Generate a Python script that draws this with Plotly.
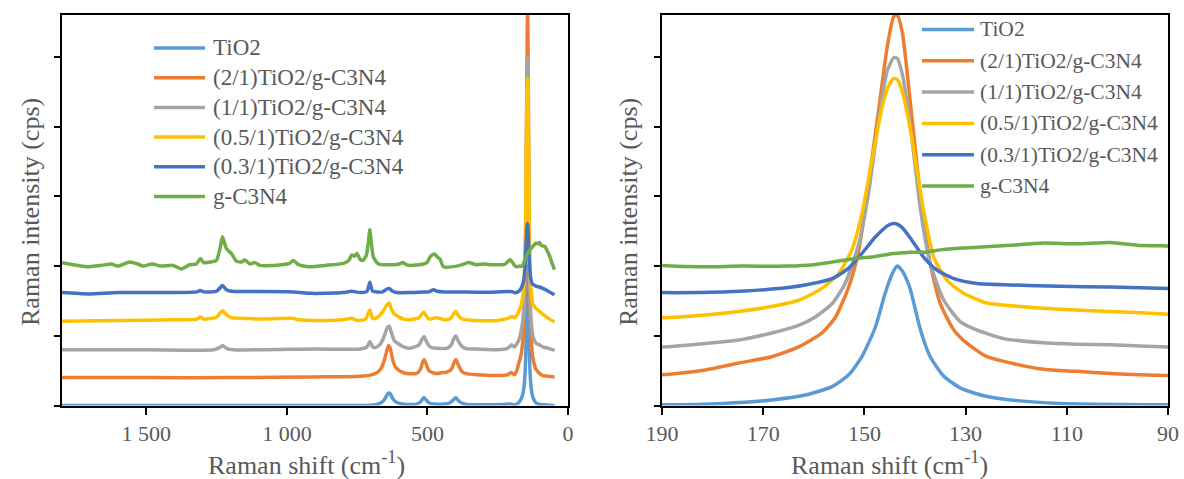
import plotly.graph_objects as go

W, H = 1184, 479

names = ["TiO2", "(2/1)TiO2/g-C3N4", "(1/1)TiO2/g-C3N4",
         "(0.5/1)TiO2/g-C3N4", "(0.3/1)TiO2/g-C3N4", "g-C3N4"]
colors = ["#5B9BD5", "#ED7D31", "#A5A5A5", "#FFC000", "#4472C4", "#70AD47"]

# Raman shift (cm-1) / intensity (arbitrary units, tick step = 1)
tio2_shift = [1800, 1500, 1200, 900, 760, 700, 680, 665, 654, 645, 638, 632, 625, 615, 600, 574,
              540, 525, 516, 512, 505, 495, 470, 440, 420, 405, 399, 392, 380, 360, 300, 230, 206,
              195, 190, 178, 168.3, 161.7, 156.4, 153.1, 150.5, 147.8, 145.9, 144.5, 143.5, 142.5,
              141.5, 140.9, 138.9, 137, 134.3, 131, 126.4, 119.8, 111.3, 90, 70, 48]
tio2_int = [0, 0, 0, 0, 0, 0.005, 0.015, 0.04, 0.08, 0.14, 0.18, 0.17, 0.11, 0.06, 0.03, 0.015,
            0.02, 0.05, 0.10, 0.11, 0.08, 0.04, 0.02, 0.02, 0.04, 0.09, 0.11, 0.08, 0.04, 0.015, 0.01,
            0.015, 0.02, 0.012, 0.01, 0.03, 0.08, 0.15, 0.27, 0.44, 0.70, 1.13, 1.61, 1.89, 2.0, 1.93,
            1.78, 1.66, 1.08, 0.70, 0.42, 0.25, 0.14, 0.07, 0.03, 0.01, 0.005, 0]

r21_shift = [1800, 1500, 1200, 900, 740, 700, 680, 665, 654, 645, 638, 632, 625, 615, 600, 585,
             560, 538, 525, 517, 512, 505, 495, 480, 467, 450, 431, 415, 405, 399, 392, 380, 372,
             350, 324, 253, 215, 205, 200, 195, 190, 181.4, 174.8, 168.3, 163, 158.4, 155.7, 153.1,
             151.1, 149.2, 147.2, 145.5, 144.2, 143.5, 142.5, 140.9, 138.9, 137, 135, 132.3, 129.7,
             125.8, 121.1, 114.6, 108, 101.4, 90, 70, 48]
r21_int = [0.40, 0.40, 0.40, 0.41, 0.42, 0.44, 0.47, 0.53, 0.64, 0.78, 0.86, 0.82, 0.68, 0.56,
           0.50, 0.47, 0.455, 0.46, 0.52, 0.62, 0.66, 0.60, 0.50, 0.47, 0.46, 0.47, 0.48, 0.52, 0.62,
           0.66, 0.60, 0.50, 0.47, 0.45, 0.44, 0.43, 0.44, 0.47, 0.47, 0.45, 0.44, 0.51, 0.61, 0.70,
           0.84, 1.04, 1.27, 1.70, 2.23, 3.18, 4.23, 5.14, 5.58, 5.60, 5.35, 4.33, 2.99, 2.04, 1.46,
           1.08, 0.89, 0.70, 0.61, 0.52, 0.49, 0.46, 0.43, 0.42, 0.41]

r11_shift = [1800, 1500, 1260, 1240, 1229, 1215, 1190, 900, 740, 715, 705, 695, 687, 670, 655,
             645, 636, 628, 618, 609, 585, 562, 530, 518, 512, 505, 495, 485, 460, 431, 415, 405,
             399, 392, 380, 366, 330, 253, 215, 200, 195, 190, 181.4, 174.8, 168.3, 163, 159.7,
             156.4, 153.8, 151.1, 149.2, 147.2, 145.5, 144.2, 143.5, 142.5, 140.9, 138.9, 137,
             134.3, 131, 127.7, 122.5, 114.6, 108, 101.4, 90, 70, 48]
r11_int = [0.80, 0.80, 0.80, 0.83, 0.86, 0.82, 0.80, 0.81, 0.81, 0.84, 0.92, 0.84, 0.83, 0.87,
           0.98, 1.10, 1.14, 1.04, 0.93, 0.90, 0.84, 0.82, 0.87, 0.96, 0.99, 0.93, 0.86, 0.83, 0.82,
           0.82, 0.87, 0.97, 1.00, 0.94, 0.86, 0.82, 0.81, 0.80, 0.82, 0.87, 0.85, 0.84, 0.89, 0.94,
           1.04, 1.15, 1.27, 1.46, 1.75, 2.32, 3.04, 4.09, 4.80, 4.99, 4.98, 4.75, 4.00, 2.80, 2.04,
           1.51, 1.20, 1.08, 0.96, 0.90, 0.88, 0.87, 0.84, 0.82, 0.79]

r051_shift = [1800, 1600, 1400, 1320, 1308, 1296, 1250, 1229, 1215, 1197, 1150, 1100, 977, 960,
              865, 800, 769, 750, 720, 705, 695, 680, 660, 645, 636, 628, 618, 609, 585, 562, 530,
              518, 512, 505, 495, 480, 467, 440, 431, 415, 405, 399, 392, 380, 372, 330, 253, 215,
              206, 195, 190, 181.4, 174.8, 168.3, 163, 158.4, 155.1, 152.5, 150.5, 148.5, 146.5,
              145.2, 144.2, 143.5, 142.5, 140.9, 138.3, 136.3, 133.7, 130.4, 125.8, 119.2, 111.3,
              101.4, 90, 70, 48]
r051_int = [1.21, 1.22, 1.23, 1.24, 1.27, 1.24, 1.27, 1.36, 1.30, 1.26, 1.25, 1.24, 1.25, 1.23,
            1.22, 1.23, 1.25, 1.22, 1.24, 1.37, 1.25, 1.26, 1.34, 1.44, 1.47, 1.38, 1.31, 1.29, 1.24,
            1.23, 1.26, 1.32, 1.34, 1.29, 1.24, 1.25, 1.26, 1.23, 1.23, 1.26, 1.33, 1.35, 1.30, 1.25,
            1.235, 1.22, 1.22, 1.25, 1.27, 1.27, 1.26, 1.30, 1.35, 1.42, 1.51, 1.68, 1.89, 2.23, 2.75,
            3.52, 4.28, 4.59, 4.69, 4.68, 4.50, 3.95, 2.80, 2.13, 1.80, 1.61, 1.47, 1.42, 1.38, 1.35,
            1.31, 1.25, 1.20]

r031_shift = [1800, 1707, 1600, 1400, 1320, 1308, 1296, 1250, 1229, 1215, 1197, 1150, 977, 917,
              865, 800, 769, 740, 715, 705, 695, 660, 645, 636, 628, 609, 560, 514, 495, 479, 465,
              440, 396, 300, 206, 195, 190, 178, 168.3, 161.7, 156.4, 153.1, 150.5, 147.8, 145.2,
              143.9, 142.5, 140.9, 138.3, 135.6, 132.3, 127.7, 121.1, 111.3, 101.4, 90, 70, 48]
r031_int = [1.62, 1.60, 1.62, 1.62, 1.63, 1.65, 1.63, 1.64, 1.72, 1.66, 1.64, 1.635, 1.63, 1.61,
            1.61, 1.62, 1.64, 1.62, 1.64, 1.77, 1.64, 1.63, 1.67, 1.68, 1.65, 1.62, 1.62, 1.63, 1.63,
            1.66, 1.64, 1.63, 1.63, 1.625, 1.635, 1.63, 1.62, 1.63, 1.67, 1.73, 1.82, 1.97, 2.18,
            2.42, 2.59, 2.61, 2.55, 2.40, 2.13, 1.94, 1.82, 1.75, 1.73, 1.71, 1.70, 1.68, 1.64, 1.59]

gcn_shift = [1800, 1760, 1713, 1660, 1624, 1601, 1560, 1530, 1512, 1480, 1446, 1405, 1375, 1346,
             1322, 1308, 1296, 1270, 1251, 1238, 1229, 1215, 1197, 1179, 1160, 1150, 1132, 1114,
             1096, 1050, 1019, 990, 977, 959, 917, 865, 798, 780, 769, 760, 751, 740, 730, 718, 710,
             705, 700, 692, 674, 621, 600, 588, 575, 562, 514, 500, 491, 480, 473, 465, 455, 443,
             396, 370, 354, 324, 300, 277, 224, 215, 206, 195, 190, 182.1, 174.2, 165, 160, 157,
             154.4, 151.8, 148.5, 145.2, 142.6, 140.9, 138, 134.3, 127.7, 121.1, 114.6, 108, 101.4,
             96.1, 90, 82, 74, 64, 55, 48]
gcn_int = [2.05, 2.02, 1.99, 2.01, 2.03, 2.00, 2.06, 2.03, 2.00, 2.03, 2.00, 2.01, 1.96, 2.02,
           2.03, 2.11, 2.05, 2.06, 2.08, 2.25, 2.42, 2.25, 2.18, 2.07, 2.06, 2.09, 2.03, 2.05, 2.01,
           2.01, 2.02, 2.04, 2.08, 2.02, 1.99, 2.01, 2.04, 2.08, 2.16, 2.14, 2.18, 2.10, 2.08, 2.15,
           2.35, 2.52, 2.35, 2.13, 2.03, 2.02, 2.03, 2.05, 2.02, 2.01, 2.03, 2.06, 2.13, 2.17, 2.17,
           2.13, 2.10, 1.99, 2.00, 2.03, 2.05, 2.02, 2.03, 2.02, 2.03, 2.06, 2.09, 2.04, 2.01, 1.99,
           2.00, 2.00, 2.02, 2.05, 2.08, 2.11, 2.13, 2.17, 2.19, 2.20, 2.20, 2.24, 2.27, 2.30, 2.33,
           2.32, 2.34, 2.30, 2.29, 2.28, 2.22, 2.13, 2.02, 1.95]

series = [(tio2_shift, tio2_int), (r21_shift, r21_int), (r11_shift, r11_int),
          (r051_shift, r051_int), (r031_shift, r031_int), (gcn_shift, gcn_int)]

left_ticks = [1500, 1000, 500, 0]
left_ticktext = ["1 500", "1 000", "500", "0"]
right_ticks = [190, 170, 150, 130, 110, 90]

FONT = "Liberation Serif, Times New Roman, DejaVu Serif, serif"
TXT = "#595959"
LW = 3.5

fig = go.Figure()
for (sx, sy), nm, col in zip(series, names, colors):
    fig.add_trace(go.Scatter(x=sx, y=sy, name=nm, mode="lines", showlegend=False,
                             line=dict(color=col, width=LW, shape="spline", smoothing=0.6),
                             xaxis="x", yaxis="y"))
for (sx, sy), nm, col in zip(series, names, colors):
    fig.add_trace(go.Scatter(x=sx, y=sy, name=nm, mode="lines", showlegend=False,
                             line=dict(color=col, width=LW, shape="spline", smoothing=0.6),
                             xaxis="x2", yaxis="y2"))


def px(v):
    return v / W


def py(v):
    return 1 - v / H


ydom = [py(405.5), py(14.5)]
axis_common = dict(showline=True, linecolor="black", linewidth=2, mirror=True,
                   ticks="outside", tickcolor="black", tickwidth=2, automargin=False,
                   showgrid=False, zeroline=False,
                   tickfont=dict(family=FONT, size=22, color=TXT))

fig.update_layout(
    template="none",
    width=W, height=H, autosize=False,
    margin=dict(l=0, r=0, t=0, b=0, pad=0),
    paper_bgcolor="white", plot_bgcolor="white",
    font=dict(family=FONT, color=TXT),
    showlegend=False,
    xaxis=dict(domain=[px(62), px(568)], range=[1800, 0], tickvals=left_ticks,
               ticktext=left_ticktext, ticklen=7, anchor="y", **axis_common),
    yaxis=dict(domain=ydom, range=[0, 5.61], tickvals=[0, 1, 2, 3, 4, 5], showticklabels=False,
               ticklen=6, anchor="x", **axis_common),
    xaxis2=dict(domain=[px(662), px(1168)], range=[190, 90], tickvals=right_ticks,
                ticklen=7, anchor="y2", **axis_common),
    yaxis2=dict(domain=ydom, range=[0, 5.61], tickvals=[0, 1, 2, 3, 4, 5], showticklabels=False,
                ticklen=6, anchor="x2", **axis_common),
)

# legends (one per panel): sample line + label
legend_specs = [
    dict(x0=154, x1=205, xt=211, y0=48, dy=29.7, size=23),
    dict(x0=922, x1=974, xt=978, y0=29.5, dy=31.3, size=21.5),
]
for spec in legend_specs:
    for i, (nm, col) in enumerate(zip(names, colors)):
        yy = spec["y0"] + i * spec["dy"]
        fig.add_shape(type="line", xref="paper", yref="paper",
                      x0=px(spec["x0"]), x1=px(spec["x1"]), y0=py(yy), y1=py(yy),
                      line=dict(color=col, width=LW))
        fig.add_annotation(x=px(spec["xt"]), y=py(yy), xref="paper", yref="paper", text=nm,
                           showarrow=False, xanchor="left", yanchor="middle",
                           font=dict(family=FONT, size=spec["size"], color=TXT))

title_font = dict(family=FONT, size=26, color=TXT)
for xc in [306, 889]:
    fig.add_annotation(x=px(xc), y=py(463), xref="paper", yref="paper",
                       text="Raman shift (cm<sup>-1</sup>)",
                       showarrow=False, xanchor="center", yanchor="middle", font=title_font)
for xc in [30, 628]:
    fig.add_annotation(x=px(xc), y=py(212), xref="paper", yref="paper",
                       text="Raman intensity (cps)", textangle=-90,
                       showarrow=False, xanchor="center", yanchor="middle", font=title_font)

fig.write_html("out.html")
